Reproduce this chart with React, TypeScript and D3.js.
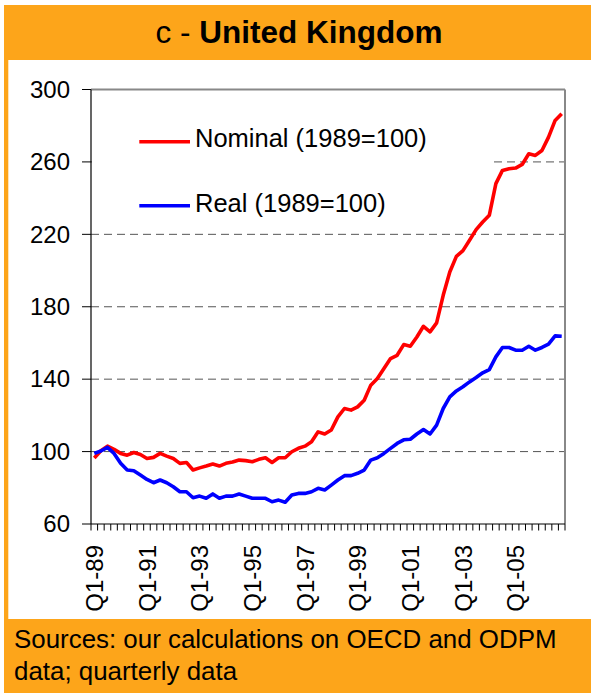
import React from "react";
import * as d3 from "d3";

const years = [89, 90, 91, 92, 93, 94, 95, 96, 97, 98, 99, 0, 1, 2, 3, 4, 5, 6];
const quarters = years.flatMap((y) =>
  [1, 2, 3, 4].map((q) => `Q${q}-${String(y).padStart(2, "0")}`)
);
const tickLabels = ["Q1-89", "Q1-91", "Q1-93", "Q1-95", "Q1-97", "Q1-99", "Q1-01", "Q1-03", "Q1-05"];
const yTicks = [60, 100, 140, 180, 220, 260, 300];
const gridValues = [100, 140, 180, 220, 260];

const nominal = [
  96.5, 100.5, 103, 101.2, 99, 98, 99.5, 98.4, 96.2, 96.8, 99, 97.5,
  96.2, 93.5, 94, 89.8, 91, 92, 93.1, 92, 93.5, 94.2, 95.3, 95,
  94.4, 95.7, 96.6, 94, 96.6, 96.6, 99.9, 101.8, 103, 105.4, 110.9, 109.7,
  111.9, 119.2, 123.8, 122.9, 124.7, 128.4, 136.7, 140.4, 145.9, 151.4, 153.2, 159.1,
  158.2, 163.3, 169.2, 166.1, 171.1, 186.3, 199.2, 207.8, 211, 216.7, 222.6, 226.8,
  230.5, 248, 255.3, 256.2, 256.6, 258.6, 264.5, 263.6, 266.3, 273.7, 282.9, 286.6,
];
const real = [
  99, 100.3, 102.3, 99, 93.5, 89.8, 89.4, 87, 84.6, 82.8, 84.3, 82.8,
  80.6, 77.8, 77.8, 74.5, 75.4, 74.2, 76.6, 74.2, 75.4, 75.4, 76.6, 75.4,
  74.2, 74.2, 74.2, 72.3, 73.2, 72, 76, 76.9, 76.9, 77.8, 79.7, 78.8,
  81.5, 84.3, 86.7, 86.7, 88, 89.8, 95.3, 96.6, 99, 101.8, 104.5, 106.5,
  106.8, 109.7, 112.2, 109.7, 114.6, 123.8, 130.2, 133.5, 135.8, 138.5, 140.9, 143.5,
  145.3, 152.3, 157.5, 157.5, 156, 156, 158.2, 156, 157.5, 159.3, 163.9, 163.7,
];

const seriesDefs = [
  { name: "Nominal (1989=100)", values: nominal, color: "#FF0000" },
  { name: "Real (1989=100)", values: real, color: "#0000FF" },
];

const W = 591;
const H = 693;
const ORANGE = "#FDA51A";
const FONT = "'Liberation Sans', Arial, Helvetica, sans-serif";

export default function App() {
  const left = 91, right = 565, top = 89.5, bottom = 524;
  const x = d3.scaleBand<number>().domain(d3.range(quarters.length)).range([left, right]);
  const y = d3.scaleLinear().domain([60, 300]).range([bottom, top]);
  const cx = (i: number) => (x(i) as number) + x.bandwidth() / 2;
  const line = d3.line<number>().x((_, i) => cx(i)).y((d) => y(d));
  const boundaries = d3.range(quarters.length + 1).map((i) => left + i * x.bandwidth());

  return (
    <svg width={W} height={H} style={{ position: "absolute", left: 0, top: 0 }} fontFamily={FONT}>
      <rect x={0} y={0} width={W} height={H} fill="#fff" />
      {/* card frame */}
      <rect x={4} y={5} width={W} height={55} fill={ORANGE} />
      <rect x={4} y={5} width={4.3} height={H} fill={ORANGE} />
      <rect x={4} y={619} width={W} height={H - 619} fill={ORANGE} />
      <text x={299} y={42.7} textAnchor="middle" fontSize={31.5} fill="#000">
        <tspan>c - </tspan>
        <tspan fontWeight="bold">United Kingdom</tspan>
      </text>

      {/* gridlines */}
      {gridValues.map((v) => (
        <line key={v} x1={left} x2={right} y1={y(v)} y2={y(v)} stroke="#555" strokeWidth={1} strokeDasharray="8,5" />
      ))}

      {/* legend box covering gridlines */}
      <rect x={92} y={100} width={397} height={124} fill="#fff" />
      {seriesDefs.map((s, k) => {
        const ly = 141.7 + k * 64;
        return (
          <g key={s.name}>
            <line x1={139.3} x2={190} y1={ly} y2={ly} stroke={s.color} strokeWidth={3.5} />
            <text x={195} y={147.3 + k * 64.4} fontSize={25.5} fill="#000">{s.name}</text>
          </g>
        );
      })}

      {/* plot border (top/right) */}
      <line x1={left} x2={right} y1={top} y2={top} stroke="#888" strokeWidth={2} />
      <line x1={right} x2={right} y1={top} y2={bottom} stroke="#888" strokeWidth={2} />

      {/* series */}
      {seriesDefs.map((s) => (
        <path key={s.name} d={line(s.values) || ""} fill="none" stroke={s.color} strokeWidth={3.6} strokeLinejoin="round" />
      ))}

      {/* y axis */}
      <line x1={left} x2={left} y1={top} y2={bottom} stroke="#000" strokeWidth={1.2} />
      {yTicks.map((v) => (
        <g key={v}>
          <line x1={82} x2={left} y1={y(v)} y2={y(v)} stroke="#000" strokeWidth={1} />
          <text x={70} y={y(v) + 8.2} textAnchor="end" fontSize={24} fill="#000">{v}</text>
        </g>
      ))}

      {/* x axis */}
      <line x1={left} x2={right} y1={bottom} y2={bottom} stroke="#000" strokeWidth={1.2} />
      {boundaries.map((bx, i) => (
        <line key={i} x1={bx} x2={bx} y1={bottom} y2={bottom + 6.5} stroke="#000" strokeWidth={1} />
      ))}
      {tickLabels.map((lab) => {
        const i = quarters.indexOf(lab);
        const tx = cx(i) + 8.6;
        const ty = 545;
        return (
          <text key={lab} transform={`translate(${tx},${ty}) rotate(-90)`} textAnchor="end" fontSize={24} fill="#000">
            {lab}
          </text>
        );
      })}

      {/* footer */}
      <text x={14} y={648.3} fontSize={25.9} fill="#000">Sources: our calculations on OECD and ODPM</text>
      <text x={14} y={680} fontSize={25.9} fill="#000">data; quarterly data</text>
    </svg>
  );
}
